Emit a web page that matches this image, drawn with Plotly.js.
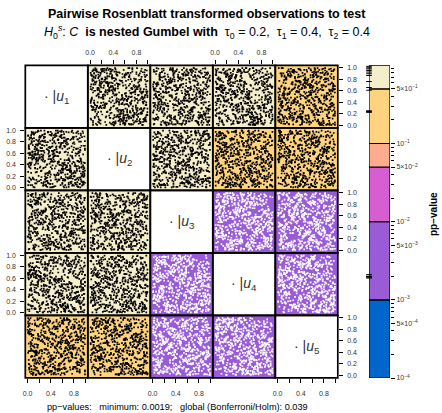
<!DOCTYPE html>
<html><head><meta charset="utf-8">
<script src="https://cdn.plot.ly/plotly-3.0.1.min.js"></script>
<style>html,body{margin:0;padding:0;background:#fff}#chart{width:442px;height:413px}</style>
</head><body><div id="chart"></div>
<script>
// ---------- data ----------
const varNames = ['1','2','3','4','5'];
// pp-values per panel (row i, column j); null on the diagonal
const ppRow1 = [null, 0.93, 0.82, 0.62, 0.26];
const ppRow2 = [0.97, null, 0.74, 0.25, 0.48];
const ppRow3 = [0.90, 0.86, null, 0.0019, 0.0020];
const ppRow4 = [0.78, 0.52, 0.00195, null, 0.0021];
const ppRow5 = [0.255, 0.26, 0.00197, 0.00199, null];
// colour-bucket breaks and colours
const bucketBreaks = [0.0001, 0.001, 0.01, 0.05, 0.1, 0.5, 1];
const bucketColors = ['#0066CC', '#9A5CD6', '#D65ED0', '#FFAB8E', '#FFD37F', '#F5EECA'];
const cbTickVals = [0.5, 0.1, 0.05, 0.01, 0.005, 0.001, 0.0005, 0.0001];
const cbTickText = ['5\u00d710<sup>\u22121</sup>', '10<sup>\u22121</sup>', '5\u00d710<sup>\u22122</sup>', '10<sup>\u22122</sup>',
                    '5\u00d710<sup>\u22123</sup>', '10<sup>\u22123</sup>', '5\u00d710<sup>\u22124</sup>', '10<sup>\u22124</sup>'];
const cbMinorVals = [0.9,0.8,0.7,0.6,0.4,0.3,0.2, 0.09,0.08,0.07,0.06,0.04,0.03,0.02, 0.009,0.008,0.007,0.006,0.004,0.003,0.002,
                     0.0009,0.0008,0.0007,0.0006,0.0004,0.0003,0.0002];
const axTickVals = [0, 0.2, 0.4, 0.6, 0.8, 1.0];
const xTickText = ['0.0', '', '0.4', '', '0.8', ''];
const yTickText = ['0.0', '0.2', '0.4', '0.6', '0.8', '1.0'];
const titleLine1 = '<b>Pairwise Rosenblatt transformed observations to test</b>';
const titleLine2 = '<i>H</i><sub>0</sub><sup><i>s</i></sup>: <i>C</i>\u00a0 <b>is nested Gumbel with</b>\u00a0 \u03c4<sub>0</sub> = 0.2,\u00a0 \u03c4<sub>1</sub> = 0.4,\u00a0 \u03c4<sub>2</sub> = 0.4';
const footText = 'pp\u2212values:\u00a0\u00a0 minimum: 0.0019;\u00a0\u00a0 global (Bonferroni/Holm): 0.039';
const cbTitle = '<b>pp\u2212value</b>';
// Rosenblatt transformed observations (in percent of the unit interval)
const u1 = [37,82,5,61,94,18,73,46,29,88,12,57,66,3,91,40,24,79,53,8,
70,33,97,15,48,62,85,21,9,76,44,58,1,93,27,68,39,11,84,52,
19,65,30,87,6,74,42,99,23,55,81,14,36,69,47,2,90,60,26,78,
50,13,95,34,71,7,83,41,64,28,17,89,56,22,98,45,10,75,32,63,
86,4,59,38,92,25,67,16,80,49,31,72,0,54,43,96,20,77,35,61,
11,58,83,27,44,90,6,71,35,62,98,19,53,80,14,39,67,2,88,47,
73,25,40,96,8,57,31,84,66,12,49,93,22,76,5,60,38,91,17,55,
29,81,64,3,45,70,18,99,52,34,87,9,42,68,26,77,13,59,94,36,
62,15,89,48,21,74,56,1,37,95,28,65,83,10,50,43,79,24,6,92,
41,97,7,69,33,86,23,54,78,16,61,4,91,30,72,46,85,19,57,2,
84,20,51,12,76,39,95,63,27,8,58,44,70,35,99,14,66,82,48,31,
5,68,34,90,59,1,42,17,81,53,24,75,11,97,38,63,29,86,7,71,
55,43,18,79,26,64,88,32,4,69,93,15,50,21,77,40,9,56,34,98,
16,92,61,45,87,3,74,28,57,39,13,82,67,46,2,89,36,73,60,23,
78,10,47,99,30,52,19,65,94,6,71,37,25,88,54,17,80,42,13,65,
27,59,85,8,63,41,96,14,49,75,3,58,32,79,20,68,93,51,1,44,
96,35,22,74,11,87,50,38,70,26,62,90,15,43,83,7,55,31,76,18,
48,3,69,53,97,19,31,80,12,60,36,24,89,57,64,28,45,99,23,85,
9,77,40,28,66,56,2,93,47,18,84,71,39,5,96,52,12,65,81,34,
63,24,92,15,39,83,47,58,6,91,27,50,74,14,31,86,59,8,43,70,
58,13,86,30,7,69,45,92,21,77,36,3,64,50,18,95,41,73,27,88,
2,47,79,16,60,33,98,54,11,85,24,67,39,91,6,72,49,14,82,57,
93,28,62,44,19,81,8,36,70,53,15,97,31,59,87,22,76,4,65,40,
34,71,9,96,52,26,63,84,43,1,78,38,55,17,90,61,12,48,99,25,
67,19,45,83,37,74,56,5,89,32,60,22,94,42,8,79,51,29,13,86,
21,98,30,58,11,63,87,40,17,71,47,85,6,34,68,25,93,57,75,3,
80,53,16,72,90,4,38,66,28,99,12,55,73,20,46,88,1,62,35,91,
44,7,95,23,65,49,20,78,57,14,83,30,41,64,97,10,69,37,52,18,
9,61,39,77,2,84,71,13,46,92,26,68,16,87,54,33,81,23,6,74,
75,35,54,1,46,15,92,31,64,50,5,76,97,29,59,43,27,96,70,48];
const u2 = [54,9,76,31,88,42,17,65,93,2,58,27,81,36,70,13,49,95,22,61,
85,40,6,68,19,97,33,52,74,11,63,90,28,45,8,79,56,15,37,99,
21,72,47,84,57,30,1,66,14,89,38,75,50,24,92,60,7,43,82,16,
67,35,98,12,51,78,26,91,44,5,73,18,62,87,34,55,96,29,3,80,
10,58,39,71,25,64,83,48,20,94,6,69,41,15,77,32,88,53,66,27,
92,17,60,4,86,36,52,9,79,43,25,98,13,70,57,1,84,38,63,46,
31,81,23,95,49,74,11,67,35,58,90,42,76,20,5,68,29,51,97,14,
73,44,87,18,2,61,99,30,83,26,47,16,64,39,92,55,8,78,22,59,
3,66,34,77,53,21,40,91,62,10,80,33,56,94,15,72,45,19,87,50,
46,28,93,57,12,84,69,24,6,75,37,59,1,82,48,23,96,65,30,71,
89,12,55,40,97,7,28,73,50,85,19,64,31,9,68,42,77,14,56,36,
16,75,2,62,33,90,47,58,21,96,54,8,86,44,27,93,61,3,79,48,
60,39,81,26,74,15,94,5,44,67,11,83,22,57,99,36,18,70,41,89,
28,94,13,49,68,57,34,86,72,19,63,41,97,3,52,80,25,46,7,64,
77,51,66,9,20,45,82,14,37,91,2,55,74,60,30,11,88,33,95,23,
4,86,30,95,41,71,6,59,99,27,43,78,17,66,84,48,35,62,12,52,
39,22,70,56,81,2,63,42,16,53,87,29,50,7,38,97,71,24,85,61,
94,67,18,83,36,50,25,79,58,32,70,9,45,91,13,64,54,81,29,6,
51,4,45,35,63,98,74,20,88,47,15,96,69,34,58,26,1,40,76,18,
82,30,91,14,7,38,56,97,26,65,34,72,10,49,79,17,92,5,58,43,
26,71,3,88,44,17,59,80,35,62,97,10,48,23,75,6,91,39,57,14,
68,34,85,52,9,74,21,46,93,30,58,1,82,66,41,19,70,96,27,50,
12,89,40,63,77,29,55,8,31,84,45,73,16,99,60,37,24,87,5,92,
79,6,57,20,95,47,13,68,2,41,88,26,61,33,7,78,52,15,43,69,
37,64,91,9,28,83,70,42,56,18,34,80,4,94,63,25,11,99,71,47,
90,23,15,76,54,1,38,97,65,49,22,59,87,12,36,91,73,5,30,84,
4,55,68,32,86,61,92,19,10,73,67,40,28,53,81,46,60,33,96,18,
45,81,24,99,13,38,77,51,88,27,6,94,50,71,19,2,85,64,42,58,
63,16,50,42,71,95,6,34,79,15,53,31,75,98,44,67,20,89,14,37,
17,97,78,5,60,8,47,25,62,90,39,72,11,45,27,83,56,9,76,3];
const u3 = [15,63,88,42,7,71,29,54,96,36,80,19,47,3,68,92,25,58,11,74,
49,2,67,83,34,56,12,90,41,77,23,61,98,16,52,38,85,6,70,29,
91,44,20,58,79,8,65,31,17,87,53,99,4,72,40,14,62,83,37,50,
6,81,35,97,26,62,48,75,89,13,32,57,76,45,19,68,3,94,55,23,
73,28,59,10,46,93,1,39,64,81,69,7,24,88,60,35,51,17,99,42,
37,95,13,66,84,21,77,50,8,44,16,89,58,31,96,4,73,40,26,63,
58,11,72,30,53,87,36,19,95,69,41,2,82,64,22,78,47,13,90,5,
84,46,25,79,9,40,60,71,33,3,91,54,15,97,67,30,86,57,41,18,
2,70,51,18,92,65,24,86,46,58,27,76,37,9,83,61,12,69,33,95,
63,33,97,48,14,78,55,5,73,26,65,43,93,50,6,39,74,21,80,56,
27,89,6,61,38,1,83,43,20,97,11,68,48,79,35,56,29,92,8,70,
96,17,43,85,71,50,30,62,12,75,88,25,4,59,45,92,18,36,64,1,
42,55,80,23,2,66,94,14,58,37,60,82,33,21,74,10,98,51,27,87,
19,74,34,11,57,32,9,97,81,51,6,46,66,86,28,53,39,79,3,48,
70,4,90,54,67,83,45,26,39,15,78,35,97,12,63,85,22,44,60,31,
8,61,21,76,43,12,68,92,55,2,49,18,71,38,91,7,66,30,94,75,
51,38,65,3,88,59,19,47,77,64,34,96,9,55,16,43,81,5,28,83,
87,22,47,94,30,7,73,35,1,85,22,61,53,27,80,69,14,91,47,12,
31,99,16,67,52,91,38,80,64,29,74,10,45,84,2,57,33,63,76,24,
66,48,82,39,20,44,57,9,22,93,40,15,87,65,49,99,6,18,52,78,
81,25,57,9,94,40,70,16,63,33,88,51,2,76,45,19,97,29,66,12,
35,72,13,86,50,27,91,61,5,44,68,22,84,38,95,7,55,79,31,60,
4,48,77,37,20,96,58,11,83,69,30,42,92,18,73,1,64,52,26,89,
59,93,30,65,11,54,3,87,41,24,99,75,14,57,36,83,47,8,71,16,
23,66,45,98,76,32,82,20,6,60,39,17,70,49,85,28,63,94,10,53,
96,10,85,28,39,14,61,73,52,91,2,80,43,27,58,67,35,21,88,46,
47,3,69,53,84,78,26,41,99,7,65,56,19,90,12,44,80,71,37,62,
14,58,34,79,61,6,49,95,24,37,82,13,63,5,74,92,18,54,30,85,
68,87,21,44,2,89,16,32,77,55,45,93,29,67,40,9,51,1,78,25,
30,41,99,15,67,48,90,57,13,86,25,34,76,50,23,58,96,65,8,73];
const u4 = [90,26,48,13,67,35,81,4,59,22,73,45,98,30,16,62,84,7,39,55,
12,77,33,60,95,8,44,71,27,51,86,2,68,41,19,93,57,24,80,36,
64,5,88,29,40,75,18,53,97,34,9,62,83,15,56,28,70,46,1,91,
37,69,21,85,3,50,93,10,66,42,79,31,14,58,87,23,49,76,32,6,
45,82,11,54,72,17,38,99,25,63,48,86,6,35,20,71,94,43,57,13,
78,39,67,1,29,96,52,74,14,87,33,57,70,24,61,45,8,84,19,60,
25,56,92,43,80,13,64,36,49,7,95,18,40,89,73,30,53,2,66,98,
3,88,16,74,58,28,46,82,91,60,21,68,5,50,37,11,79,63,44,27,
71,43,59,34,6,85,23,15,40,76,55,2,97,65,88,49,26,92,12,38,
52,14,79,96,47,61,9,30,68,19,84,39,27,75,4,58,36,17,85,70,
19,63,1,40,83,24,72,55,98,32,11,76,49,16,65,94,41,28,54,7,
86,31,76,21,50,69,4,93,35,59,47,14,62,80,29,3,67,99,38,44,
33,97,53,8,17,42,88,26,71,12,90,64,35,3,46,81,20,59,73,5,
60,10,38,92,65,3,31,47,84,56,22,78,99,42,14,67,9,34,25,89,
8,74,27,66,36,55,99,18,2,43,69,30,15,87,53,22,85,61,48,77,
95,48,84,12,91,20,43,67,58,27,6,92,39,72,31,83,57,11,68,16,
42,2,61,31,77,89,14,51,9,96,74,45,81,22,62,8,33,79,1,54,
14,80,45,57,24,73,65,6,36,82,28,54,18,95,7,39,90,47,63,29,
69,22,96,49,10,34,58,78,87,1,61,23,70,13,50,76,44,4,91,37,
27,58,7,73,44,93,15,32,63,46,18,87,52,36,84,26,60,97,15,81,
55,8,36,77,21,62,93,46,13,80,29,67,4,52,88,39,17,71,60,97,
83,49,70,2,34,98,15,58,76,25,42,90,63,11,31,54,81,7,46,19,
18,66,24,91,56,4,79,37,61,9,72,26,85,47,2,64,35,96,12,73,
41,95,12,59,87,30,50,83,20,68,44,3,57,93,76,16,99,28,54,38,
97,33,80,6,45,71,22,64,92,14,58,87,31,9,67,43,5,75,23,61,
7,60,47,29,74,90,37,1,53,40,96,19,75,65,27,84,50,13,89,32,
64,27,88,51,16,41,68,86,30,95,8,47,22,78,56,1,61,43,35,82,
29,74,3,69,98,57,11,24,45,70,34,63,91,17,40,99,26,86,6,50,
86,14,92,38,59,23,84,67,5,52,79,10,48,36,94,20,73,58,66,2,
50,82,19,65,7,35,55,99,77,18,61,42,1,84,11,69,32,14,90,45];
const u5 = [6,47,72,91,28,53,14,85,39,66,21,99,58,10,77,33,44,62,89,3,
58,92,19,37,80,25,69,3,51,84,15,46,73,30,97,61,8,42,22,76,
29,68,54,7,43,94,35,82,60,18,74,1,40,96,13,55,87,24,70,48,
81,15,40,65,88,11,57,30,2,76,49,93,21,67,36,84,5,59,45,97,
44,73,95,26,16,62,83,41,97,34,8,56,79,12,90,27,63,38,4,71,
17,32,61,82,55,7,46,68,23,89,64,38,11,53,42,75,96,20,81,50,
93,5,28,50,70,36,98,12,77,41,2,85,60,33,16,94,24,67,48,9,
65,84,43,13,31,79,22,54,8,95,57,26,74,47,86,3,39,90,18,61,
38,20,87,59,99,47,10,75,64,28,91,69,35,4,52,81,15,44,72,33,
2,57,34,76,9,18,89,39,50,13,79,6,83,66,24,40,71,97,56,87,
75,40,11,95,67,58,26,4,86,61,37,20,52,94,7,64,49,30,10,45,
50,99,66,22,35,84,73,53,15,3,70,47,28,77,92,19,56,12,68,26,
12,63,8,45,58,29,36,91,42,80,25,54,96,43,32,71,1,85,37,79,
86,26,77,3,81,96,51,16,69,35,88,14,6,61,75,47,32,65,91,22,
31,70,48,64,20,41,4,60,93,53,44,78,38,18,57,99,84,8,25,56,
59,11,91,33,74,6,65,28,47,82,19,62,90,80,3,36,70,51,93,14,
97,44,2,71,50,23,84,95,31,20,66,10,43,27,68,55,17,76,39,64,
23,86,55,17,39,68,7,48,78,57,97,33,81,50,11,29,92,2,60,40,
70,36,24,88,12,87,42,63,5,72,30,91,16,99,46,85,54,35,83,6,
41,78,60,9,94,15,30,21,56,43,12,67,25,1,73,20,64,89,28,58,
34,90,61,18,79,44,2,67,25,52,83,13,95,39,70,58,8,46,21,86,
77,12,46,85,33,63,92,20,41,7,99,56,28,74,16,49,65,35,93,1,
51,68,97,29,6,82,43,14,76,58,22,37,88,4,61,30,73,90,47,19,
9,40,26,72,54,15,99,37,64,90,11,80,48,25,5,60,33,84,69,42,
62,85,4,48,91,38,57,76,18,45,70,29,96,55,79,12,44,2,87,24,
88,23,73,54,10,27,67,49,96,31,17,63,3,85,37,94,21,58,40,71,
15,56,35,96,63,80,6,30,82,9,48,92,67,20,71,47,99,13,55,28,
71,7,82,3,42,69,31,88,59,36,76,23,54,14,98,65,7,39,81,62,
43,94,16,60,27,97,53,11,72,66,5,84,39,61,30,18,87,74,32,10,
26,51,66,39,85,2,78,45,20,93,58,35,89,45,64,52,15,28,97,80];

// ---------- build ----------
const FONT = 'Liberation Sans, Arial, Helvetica, sans-serif';
const W = 442, H = 413, GX = 25.3, GY = 65.3, S = 62.5;
const ppMatrix = [ppRow1, ppRow2, ppRow3, ppRow4, ppRow5];
const U = [u1, u2, u3, u4, u5].map(a => a.map(v => v / 100));
function bucketOf(p) {
  for (let k = 0; k < bucketColors.length; k++) if (p < bucketBreaks[k + 1]) return k;
  return bucketColors.length - 1;
}
const layout = {
  width: W, height: H, margin: {l: 0, r: 0, t: 0, b: 0},
  paper_bgcolor: '#fff', plot_bgcolor: 'rgba(0,0,0,0)', showlegend: false, barmode: 'overlay',
  font: {family: FONT, color: '#000'}, shapes: [], annotations: []
};
const traces = [];
for (let r = 0; r < 5; r++) {
  for (let c = 0; c < 5; c++) {
    const n = r * 5 + c + 1, sfx = n === 1 ? '' : String(n);
    const showTop = r === 0 && c % 2 === 1, showBottom = r === 4 && c % 2 === 0;
    const showLeft = c === 0 && r % 2 === 1, showRight = c === 4 && r % 2 === 0;
    const common = {range: [-0.04, 1.04], autorange: false, showgrid: false, zeroline: false, showline: false, tickmode: 'array',
      tickvals: axTickVals, ticklen: 4, tickwidth: 1, tickcolor: '#000', tickfont: {size: 7, color: '#333', family: FONT}, fixedrange: true};
    layout['xaxis' + sfx] = Object.assign({}, common, {
      domain: [(GX + c * S) / W, (GX + (c + 1) * S) / W], anchor: 'y' + sfx, ticktext: xTickText,
      ticks: (showTop || showBottom) ? 'outside' : '', showticklabels: showTop || showBottom, side: showTop ? 'top' : 'bottom',
      ticklabelstandoff: showTop ? 3 : 5});
    layout['yaxis' + sfx] = Object.assign({}, common, {
      domain: [1 - (GY + (r + 1) * S) / H, 1 - (GY + r * S) / H], anchor: 'x' + sfx, ticktext: yTickText,
      ticks: (showLeft || showRight) ? 'outside' : '', showticklabels: showLeft || showRight, side: showRight ? 'right' : 'left',
      ticklabelstandoff: 3});
    const xr = 'x' + sfx + ' domain', yr = 'y' + sfx + ' domain';
    const p = ppMatrix[r][c];
    const bg = (p === null) ? '#ffffff' : bucketColors[bucketOf(p)];
    layout.shapes.push({type: 'rect', xref: xr, yref: yr, x0: 0, x1: 1, y0: 0, y1: 1, fillcolor: bg, line: {width: 0}, layer: 'below'});
    layout.shapes.push({type: 'rect', xref: xr, yref: yr, x0: 0, x1: 1, y0: 0, y1: 1, line: {color: '#000', width: 1.7}, layer: 'above'});
    if (p === null) {
      traces.push({type: 'scatter', mode: 'markers', x: [], y: [], xaxis: 'x' + sfx, yaxis: 'y' + sfx, hoverinfo: 'skip'});
      layout.annotations.push({xref: xr, yref: yr, x: 0.5, y: 0.5, xanchor: 'center', yanchor: 'middle', showarrow: false,
        text: '\u00b7 |<i>u</i><sub>' + varNames[r] + '</sub>', font: {size: 14, color: '#333', family: FONT}});
    } else {
      const dark = bucketOf(p) <= 1;
      traces.push({type: 'scatter', mode: 'markers', x: U[c], y: U[r], xaxis: 'x' + sfx, yaxis: 'y' + sfx,
        marker: {symbol: 'square', size: 1.7, color: dark ? '#ffffff' : '#000000', line: {width: 0}}, hoverinfo: 'skip'});
    }
  }
}
// colour bar
const lb = bucketBreaks.map(v => Math.log10(v));
traces.push({type: 'bar', x: bucketColors.map(() => 0), base: lb.slice(0, -1), y: lb.slice(1).map((v, i) => v - lb[i]),
  width: 1, marker: {color: bucketColors, line: {color: '#000', width: 1.2}}, xaxis: 'x26', yaxis: 'y26', cliponaxis: false, hoverinfo: 'skip'});
const ppAll = ppMatrix.flat().filter(v => v !== null);
traces.push({type: 'scatter', mode: 'markers', x: ppAll.map(() => -0.5), y: ppAll.map(v => Math.log10(v)),
  xaxis: 'x26', yaxis: 'y26', cliponaxis: false, marker: {symbol: 'line-ew', size: 4, color: '#000', line: {color: '#000', width: 1}}, hoverinfo: 'skip'});
layout.xaxis26 = {domain: [369 / W, 390 / W], anchor: 'y26', range: [-0.5, 0.5], autorange: false, visible: false, fixedrange: true};
layout.yaxis26 = {domain: [1 - 378 / H, 1 - 65.3 / H], anchor: 'x26', range: [-4, 0], autorange: false, side: 'right', showgrid: false, zeroline: false,
  showline: false, tickmode: 'array', tickvals: cbTickVals.map(v => Math.log10(v)), ticktext: cbTickText, ticks: 'outside', ticklen: 4,
  tickwidth: 1, tickcolor: '#000', tickfont: {size: 7, color: '#333', family: FONT}, fixedrange: true,
  minor: {tickmode: 'array', tickvals: cbMinorVals.map(v => Math.log10(v)), ticks: 'outside', ticklen: 2.5, tickwidth: 1, tickcolor: '#000', showgrid: false}};
const ann = (x, y, text, size, extra) => layout.annotations.push(Object.assign({xref: 'paper', yref: 'paper', x: x / W, y: 1 - y / H,
  xanchor: 'center', yanchor: 'middle', showarrow: false, text: text, font: {size: size, color: '#000', family: FONT}}, extra || {}));
ann(433, 214, cbTitle, 10, {textangle: -90});
ann(207, 14, titleLine1, 12.5);
ann(207, 32, titleLine2, 12.5);
ann(177, 407, footText, 9.2);
Plotly.newPlot('chart', traces, layout, {staticPlot: true, displayModeBar: false});
</script></body></html>
